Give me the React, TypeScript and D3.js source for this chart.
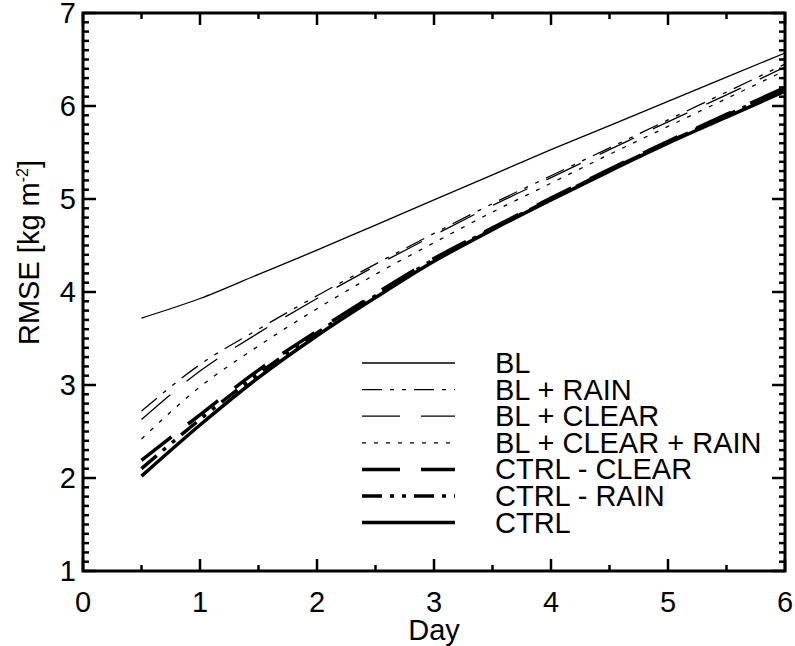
import React from "react";
import * as d3 from "d3";

const days = [0.5, 1, 1.5, 2, 2.5, 3, 3.5, 4, 4.5, 5, 5.5, 6];
const bl = [3.72, 3.93, 4.19, 4.45, 4.72, 4.99, 5.26, 5.53, 5.79, 6.05, 6.31, 6.57];
const blRain = [2.72, 3.22, 3.6, 3.96, 4.3, 4.63, 4.95, 5.25, 5.55, 5.85, 6.15, 6.45];
const blClear = [2.63, 3.15, 3.56, 3.93, 4.28, 4.61, 4.93, 5.23, 5.53, 5.83, 6.12, 6.42];
const blClearRain = [2.42, 2.98, 3.42, 3.82, 4.19, 4.53, 4.86, 5.17, 5.48, 5.78, 6.08, 6.38];
const ctrlClear = [2.19, 2.68, 3.16, 3.58, 3.98, 4.36, 4.69, 5.01, 5.32, 5.62, 5.91, 6.2];
const ctrlRain = [2.1, 2.63, 3.12, 3.56, 3.96, 4.35, 4.68, 5.0, 5.31, 5.61, 5.9, 6.19];
const ctrl = [2.02, 2.57, 3.08, 3.53, 3.94, 4.33, 4.67, 4.99, 5.3, 5.6, 5.88, 6.16];

const seriesNames = ["BL", "BL + RAIN", "BL + CLEAR", "BL + CLEAR + RAIN", "CTRL - CLEAR", "CTRL - RAIN", "CTRL"];
const seriesValues = [bl, blRain, blClear, blClearRain, ctrlClear, ctrlRain, ctrl];
const seriesWidth = [1.3, 1.3, 1.3, 1.3, 3.5, 3.5, 3.5];
const seriesDash = ["", "20 8 4 8 4 8", "38 21", "4 8", "38 21", "20 8 4 8 4 8", ""];

const xTicks = [0, 1, 2, 3, 4, 5, 6];
const yTicks = [1, 2, 3, 4, 5, 6, 7];

const W = 795;
const H = 646;
const left = 83;
const right = 785;
const top = 13;
const bottom = 571;
const FONT = "'Liberation Sans', Arial, Helvetica, sans-serif";
const FS = 29;

export default function App() {
  const x = d3.scaleLinear().domain([0, 6]).range([left, right]);
  const y = d3.scaleLinear().domain([1, 7]).range([bottom, top]);
  const line = d3
    .line<[number, number]>()
    .x((d) => x(d[0]))
    .y((d) => y(d[1]))
    .curve(d3.curveMonotoneX);

  const xMinor = d3.range(0, 6.001, 0.5);
  const yMinor = d3.range(1, 7.001, 0.1);

  const legX1 = 362;
  const legX2 = 455;
  const legY0 = 363;
  const legDy = 26.6;

  return (
    <svg
      width={W}
      height={H}
      style={{ position: "absolute", left: 0, top: 0, background: "#fff" }}
      fontFamily={FONT}
    >
      <rect x={0} y={0} width={W} height={H} fill="#fff" />
      {seriesValues.map((vals, i) => (
        <path
          key={seriesNames[i]}
          d={line(days.map((d, j) => [d, vals[j]] as [number, number])) || ""}
          fill="none"
          stroke="#000"
          strokeWidth={seriesWidth[i]}
          strokeDasharray={seriesDash[i] || undefined}
        />
      ))}
      {xMinor.map((v) => {
        const major = Math.abs(v - Math.round(v)) < 1e-6;
        const len = major ? 12 : 6;
        return (
          <g key={"xt" + v}>
            <line x1={x(v)} x2={x(v)} y1={bottom} y2={bottom - len} stroke="#000" strokeWidth={2.5} />
            <line x1={x(v)} x2={x(v)} y1={top} y2={top + len} stroke="#000" strokeWidth={2.5} />
          </g>
        );
      })}
      {yMinor.map((v) => {
        const major = Math.abs(v - Math.round(v)) < 1e-6;
        const len = major ? 13 : 6;
        return (
          <g key={"yt" + v.toFixed(1)}>
            <line x1={left} x2={left + len} y1={y(v)} y2={y(v)} stroke="#000" strokeWidth={2.5} />
            <line x1={right} x2={right - len} y1={y(v)} y2={y(v)} stroke="#000" strokeWidth={2.5} />
          </g>
        );
      })}
      <rect x={left} y={top} width={right - left} height={bottom - top} fill="none" stroke="#000" strokeWidth={3} />
      {xTicks.map((t) => (
        <text key={"xl" + t} x={x(t)} y={612} textAnchor="middle" fontSize={FS}>
          {t}
        </text>
      ))}
      {yTicks.map((t) => (
        <text key={"yl" + t} x={left - 7} y={y(t) + 10} textAnchor="end" fontSize={FS}>
          {t}
        </text>
      ))}
      <text x={(left + right) / 2} y={640} textAnchor="middle" fontSize={FS}>
        Day
      </text>
      <text transform={`translate(39, 345) rotate(-90)`} textAnchor="start" fontSize={FS}>
        RMSE [kg m
        <tspan dy={-11} fontSize={16}>-2</tspan>
        <tspan dy={11}>]</tspan>
      </text>
      {seriesNames.map((name, i) => (
        <g key={"leg" + name}>
          <line
            x1={legX1}
            x2={legX2}
            y1={legY0 + i * legDy}
            y2={legY0 + i * legDy}
            stroke="#000"
            strokeWidth={seriesWidth[i]}
            strokeDasharray={seriesDash[i] || undefined}
          />
          <text x={495} y={legY0 + i * legDy + 10} fontSize={FS}>
            {name}
          </text>
        </g>
      ))}
    </svg>
  );
}
